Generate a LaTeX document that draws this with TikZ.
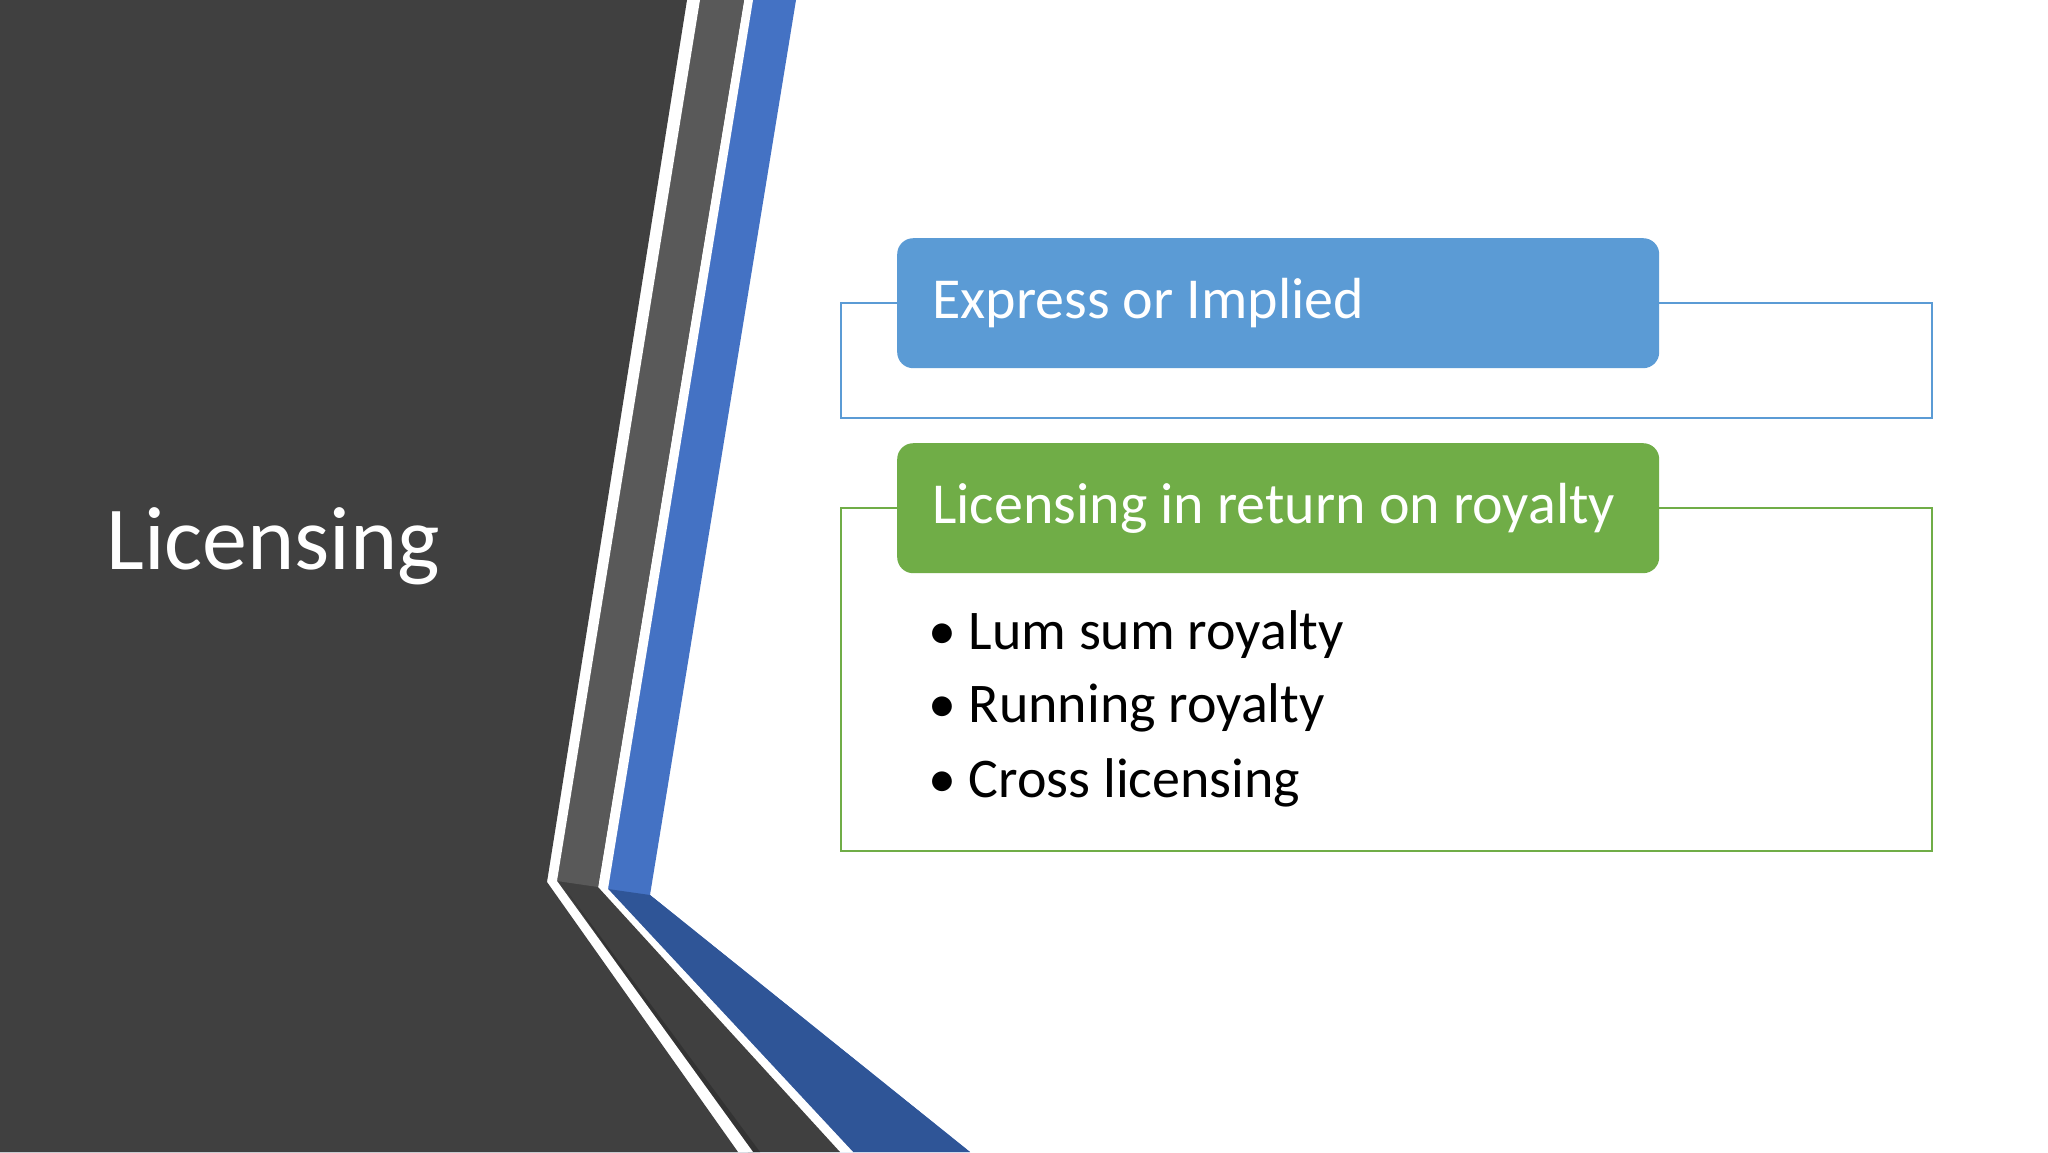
\documentclass[tikz,border=0pt]{standalone}
\usepackage{fontspec}
\setmainfont{Carlito}
\definecolor{darkbg}{HTML}{404040}
\definecolor{graystr}{HTML}{595959}
\definecolor{bluestr}{HTML}{4472C4}
\definecolor{bluedark}{HTML}{2F5597}
\definecolor{boxblue}{HTML}{5B9BD5}
\definecolor{boxgreen}{HTML}{70AD47}
\tikzset{
  hbox/.style={rounded corners=16pt, minimum width=762pt, minimum height=130pt, anchor=north west, inner sep=0pt},
  htext/.style={anchor=base west, text=white, font=\fontsize{58}{70}\selectfont, inner sep=0pt},
  btext/.style={anchor=base west, text=black, font=\fontsize{56}{68}\selectfont, inner sep=0pt},
  frame/.style={line width=1.6pt}
}
\begin{document}
\begin{tikzpicture}[x=1pt,y=-1pt]
\useasboundingbox (0,0) rectangle (2048,1152);
\fill[white] (0,0) rectangle (2048,1152);
% blue stripe
\fill[bluestr] (796,0) -- (650,895) -- (970,1152) -- (0,1152) -- (0,0) -- cycle;
\fill[bluedark] (608,889) -- (650,895) -- (970,1152) -- (853,1152) -- cycle;
% white gap
\fill[white] (753,0) -- (608,889) -- (853,1152) -- (0,1152) -- (0,0) -- cycle;
% dark layer with gray upper part
\fill[darkbg] (744,0) -- (598,887) -- (840,1152) -- (0,1152) -- (0,0) -- cycle;
\fill[graystr] (700,0) -- (744,0) -- (598,887) -- (557,881) -- cycle;
\fill[black!80] (566,890) -- (760,1152) -- (748,1152) -- cycle;
% white stripe
\fill[white] (700,0) -- (557,881) -- (753,1152) -- (0,1152) -- (0,0) -- cycle;
% main dark
\fill[darkbg] (687,0) -- (547,882) -- (738,1152) -- (0,1152) -- (0,0) -- cycle;
% title
\node[anchor=base west, text=white, font=\fontsize{90}{100}\selectfont, inner sep=0pt] (title) at (106,569) {Licensing};
% frames
\draw[frame, boxblue] (841,303) rectangle (1932,418);
\draw[frame, boxgreen] (841,508) rectangle (1932,851);
% header boxes
\node[hbox, fill=boxblue] (b1) at (897,238) {};
\node[htext] (t1) at (932,318) {Express or Implied};
\node[hbox, fill=boxgreen] (b2) at (897,443) {};
\node[htext] (t2) at (932,523) {Licensing in return on royalty};
% bullets
\node[btext] (l1) at (928,649) {• Lum sum royalty};
\node[btext] (l2) at (928,722) {• Running royalty};
\node[btext] (l3) at (928,797) {• Cross licensing};
\end{tikzpicture}
\end{document}
